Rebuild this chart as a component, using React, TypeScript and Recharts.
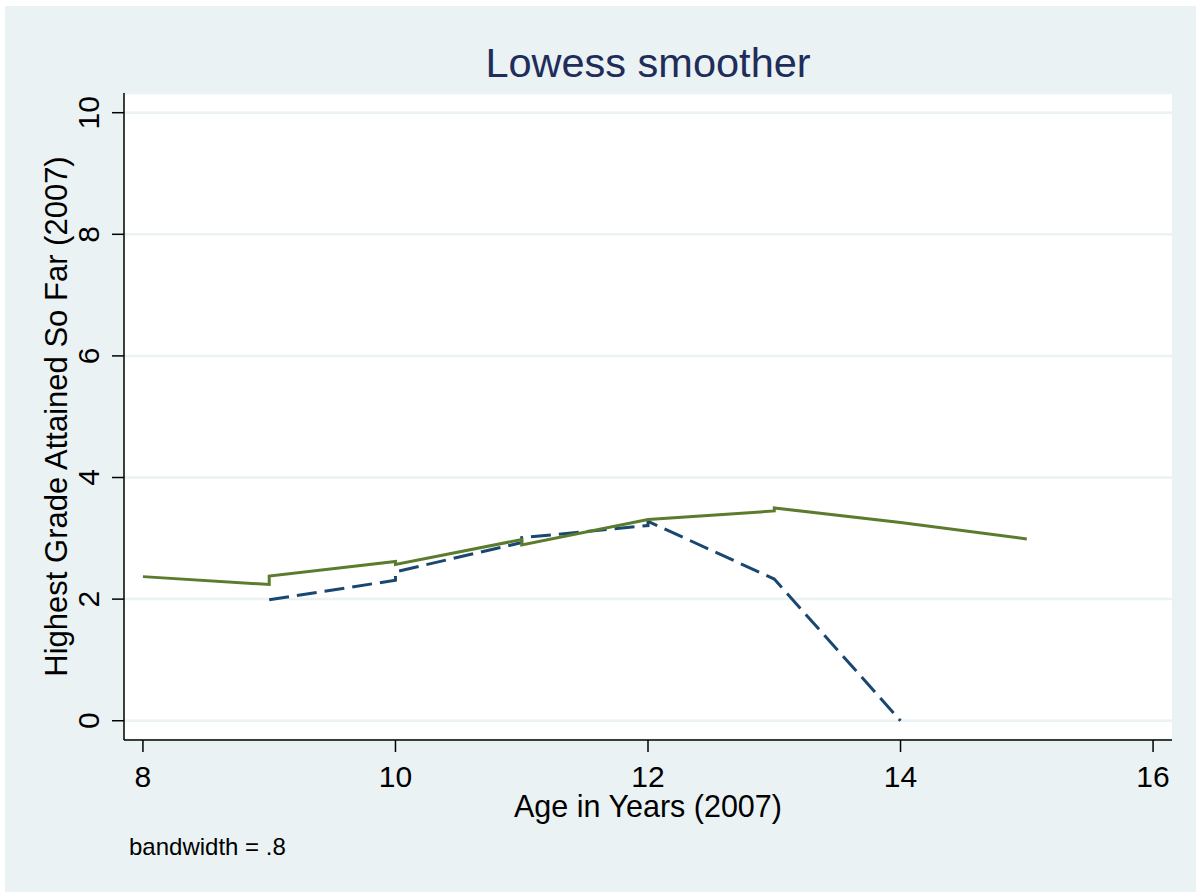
import React from 'react';
import { LineChart, Line, XAxis, YAxis, CartesianGrid } from 'recharts';

// lowess fits; repeated ages give the small steps
const greenAges = [8, 9, 9, 10, 10, 11, 11, 12, 13, 13, 14, 15];
const greenGrades = [2.37, 2.24, 2.38, 2.62, 2.57, 2.98, 2.89, 3.31, 3.45, 3.5, 3.26, 2.99];

const blueAges = [9, 10, 10, 11, 11, 12, 12, 13, 14];
const blueGrades = [1.99, 2.31, 2.45, 2.93, 3.01, 3.21, 3.28, 2.33, 0];

const xTicks = [8, 10, 12, 14, 16];
const yTicks = [0, 2, 4, 6, 8, 10];

const greenData = greenAges.map((age, i) => ({ age, grade: greenGrades[i] }));
const blueData = blueAges.map((age, i) => ({ age, grade: blueGrades[i] }));

const FONT = '"Liberation Sans", Arial, sans-serif';
const BG = '#eaf2f3';

const XTick = (props: any) => {
  const { x, y, payload } = props;
  return (
    <text x={x} y={y + 33} textAnchor="middle" fontSize={30} fontFamily={FONT} fill="#000">
      {payload.value}
    </text>
  );
};

const YTick = (props: any) => {
  const { x, y, payload } = props;
  const tx = x - 11;
  return (
    <text
      x={tx}
      y={y}
      transform={`rotate(-90, ${tx}, ${y})`}
      textAnchor="middle"
      fontSize={30}
      fontFamily={FONT}
      fill="#000"
    >
      {payload.value}
    </text>
  );
};

const App: React.FC = () => {
  return (
    <div style={{ position: 'relative', width: 1196, height: 892, background: '#fff', overflow: 'hidden' }}>
      <style>{'body{margin:0}'}</style>
      <div style={{ position: 'absolute', left: 5, top: 6, right: 0, bottom: 0, background: BG }} />
      <div style={{ position: 'absolute', left: 0, top: 0 }}>
        <LineChart width={1196} height={892} margin={{ top: 93, right: 24, bottom: 0, left: 0 }}>
          <CartesianGrid vertical={false} fill="#fff" stroke={BG} strokeWidth={2.5} />
          <XAxis
            type="number"
            dataKey="age"
            domain={[7.85, 16.15]}
            ticks={xTicks}
            allowDataOverflow
            height={152}
            tickSize={12}
            tick={<XTick />}
            axisLine={{ stroke: '#000', strokeWidth: 1.5 }}
            tickLine={{ stroke: '#000', strokeWidth: 1.5 }}
          />
          <YAxis
            type="number"
            dataKey="grade"
            domain={[-0.317, 10.324]}
            ticks={yTicks}
            allowDataOverflow
            width={124}
            tickSize={12}
            tick={<YTick />}
            axisLine={{ stroke: '#000', strokeWidth: 1.5 }}
            tickLine={{ stroke: '#000', strokeWidth: 1.5 }}
          />
          <Line
            data={blueData}
            dataKey="grade"
            type="linear"
            stroke="#1a476f"
            strokeWidth={3}
            strokeDasharray="20 8"
            dot={false}
            isAnimationActive={false}
          />
          <Line
            data={greenData}
            dataKey="grade"
            type="linear"
            stroke="#5a7c2c"
            strokeWidth={3}
            dot={false}
            isAnimationActive={false}
          />
        </LineChart>
      </div>
      <svg
        width={1196}
        height={892}
        style={{ position: 'absolute', left: 0, top: 0, pointerEvents: 'none' }}
        fontFamily={FONT}
      >
        <text x={648} y={77} textAnchor="middle" fontSize={41.5} fill="#1e2d59">
          Lowess smoother
        </text>
        <text x={648} y={817} textAnchor="middle" fontSize={30.5} fill="#000">
          Age in Years (2007)
        </text>
        <text x={67} y={416.5} transform="rotate(-90, 67, 416.5)" textAnchor="middle" fontSize={31} fill="#000">
          Highest Grade Attained So Far (2007)
        </text>
        <text x={129} y={855} fontSize={24} fill="#000">
          bandwidth = .8
        </text>
      </svg>
    </div>
  );
};

export default App;
